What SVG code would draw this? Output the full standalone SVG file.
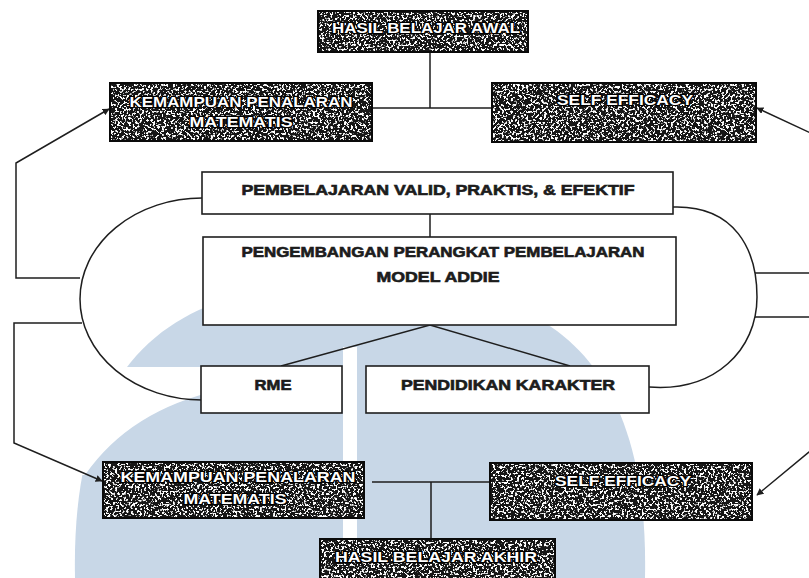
<svg xmlns="http://www.w3.org/2000/svg" width="809" height="578" viewBox="0 0 809 578">
<style>
.bg{fill:#ffffff}
.wm{fill:#c8d7e7}
.wmcut{fill:#ffffff}
.ln{fill:none;stroke:#1e1e1e;stroke-width:1.5}
.box{fill:#ffffff;stroke:#1e1e1e;stroke-width:1.6}
.dark{fill:#161616}
.dframe{fill:none;stroke:#0a0a0a;stroke-width:2}
.t{font-family:"Liberation Sans",Arial,sans-serif;font-weight:bold;font-size:14px;fill:#1c1c1c;stroke:#1c1c1c;stroke-width:0.6;text-anchor:middle}
.d{font-family:"Liberation Sans",Arial,sans-serif;font-weight:bold;font-size:14.5px;fill:#ffffff;stroke:#000000;stroke-width:2.4;paint-order:stroke;text-anchor:middle}
</style>
<defs>
<filter id="speck" filterUnits="objectBoundingBox" x="0" y="0" width="1" height="1">
<feTurbulence type="fractalNoise" baseFrequency="0.45" numOctaves="2" seed="7" result="n"/>
<feColorMatrix in="n" type="matrix" values="0 0 0 0 1  0 0 0 0 1  0 0 0 0 1  14 0 0 0 -7.6" result="w"/>
<feComposite in="w" in2="SourceAlpha" operator="in" result="wc"/>
<feMerge><feMergeNode in="SourceGraphic"/><feMergeNode in="wc"/></feMerge>
</filter>
<marker id="arr" viewBox="0 0 10 10" refX="9" refY="5" markerWidth="7" markerHeight="7" orient="auto" markerUnits="userSpaceOnUse">
<path d="M0,0 L10,5 L0,10 Z" fill="#1e1e1e"/>
</marker>
</defs>
<rect class="bg" x="0" y="0" width="809" height="578"/>
<g id="watermark">
<path class="wm" d="M75,578 C70,330 200,282 360,282 C520,282 650,330 645,578 Z"/>
<rect class="wmcut" x="343" y="347" width="14" height="231"/>
<path class="wmcut" d="M60,367 L343,367 L343,390 L220,390 Q130,410 85,475 L60,475 Z"/>
</g>
<g id="connectors">
<path class="ln" d="M430,52 V108 M372,108 H492"/>
<path class="ln" d="M80,278 H16 V163 L109,109" marker-end="url(#arr)"/>
<path class="ln" d="M82,323 H14 V443 L102,481" marker-end="url(#arr)"/>
<path class="ln" d="M755,273 H815 V135 L757,108" marker-end="url(#arr)"/>
<path class="ln" d="M755,317 H815 V447 L757,495" marker-end="url(#arr)"/>
<path class="ln" d="M430,214 V237"/>
<path class="ln" d="M281,366 L430,325 L570,366"/>
<path class="ln" d="M202,198 A122,101 0 0 0 202,400"/>
<path class="ln" d="M673,207 C735,205 757,250 757,297 C757,350 715,392 649,387"/>
<path class="ln" d="M372,482 H490 M431,482 V539"/>
</g>
<g id="hasil-awal">
<rect class="dark" x="318" y="11" width="210" height="41" filter="url(#speck)"/>
<rect class="dframe" x="318" y="11" width="210" height="41"/>
<text class="d" x="426" y="33" textLength="188" lengthAdjust="spacingAndGlyphs">HASIL BELAJAR AWAL</text>
</g>
<g id="kemampuan-awal">
<rect class="dark" x="110" y="83" width="262" height="58" filter="url(#speck)"/>
<rect class="dframe" x="110" y="83" width="262" height="58"/>
<text class="d" x="241" y="107" textLength="223" lengthAdjust="spacingAndGlyphs">KEMAMPUAN PENALARAN</text>
<text class="d" x="241" y="127" textLength="103" lengthAdjust="spacingAndGlyphs">MATEMATIS</text>
</g>
<g id="self-efficacy-awal">
<rect class="dark" x="492" y="83" width="264" height="59" filter="url(#speck)"/>
<rect class="dframe" x="492" y="83" width="264" height="59"/>
<text class="d" x="625" y="105" textLength="136" lengthAdjust="spacingAndGlyphs">SELF EFFICACY</text>
</g>
<g id="pembelajaran-valid">
<rect class="box" x="202" y="172" width="471" height="42"/>
<text class="t" x="438" y="195" textLength="393" lengthAdjust="spacingAndGlyphs">PEMBELAJARAN VALID, PRAKTIS,  &amp; EFEKTIF</text>
</g>
<g id="pengembangan">
<rect class="box" x="203" y="237" width="473" height="88"/>
<text class="t" x="443" y="257" textLength="403" lengthAdjust="spacingAndGlyphs">PENGEMBANGAN PERANGKAT PEMBELAJARAN</text>
<text class="t" x="438" y="282" textLength="123" lengthAdjust="spacingAndGlyphs">MODEL ADDIE</text>
</g>
<g id="rme">
<rect class="box" x="201" y="366" width="141" height="47"/>
<text class="t" x="273" y="390" textLength="37" lengthAdjust="spacingAndGlyphs">RME</text>
</g>
<g id="pendidikan-karakter">
<rect class="box" x="366" y="366" width="283" height="47"/>
<text class="t" x="508" y="390" textLength="214" lengthAdjust="spacingAndGlyphs">PENDIDIKAN KARAKTER</text>
</g>
<g id="kemampuan-akhir">
<rect class="dark" x="103" y="462" width="261" height="56" filter="url(#speck)"/>
<rect class="dframe" x="103" y="462" width="261" height="56"/>
<text class="d" x="238" y="482" textLength="235" lengthAdjust="spacingAndGlyphs">KEMAMPUAN PENALARAN</text>
<text class="d" x="235" y="504" textLength="103" lengthAdjust="spacingAndGlyphs">MATEMATIS</text>
</g>
<g id="self-efficacy-akhir">
<rect class="dark" x="490" y="463" width="262" height="57" filter="url(#speck)"/>
<rect class="dframe" x="490" y="463" width="262" height="57"/>
<text class="d" x="623" y="486" textLength="136" lengthAdjust="spacingAndGlyphs">SELF EFFICACY</text>
</g>
<g id="hasil-akhir">
<rect class="dark" x="320" y="539" width="235" height="45" filter="url(#speck)"/>
<rect class="dframe" x="320" y="539" width="235" height="45"/>
<text class="d" x="436" y="562" textLength="202" lengthAdjust="spacingAndGlyphs">HASIL BELAJAR AKHIR</text>
</g>
</svg>
